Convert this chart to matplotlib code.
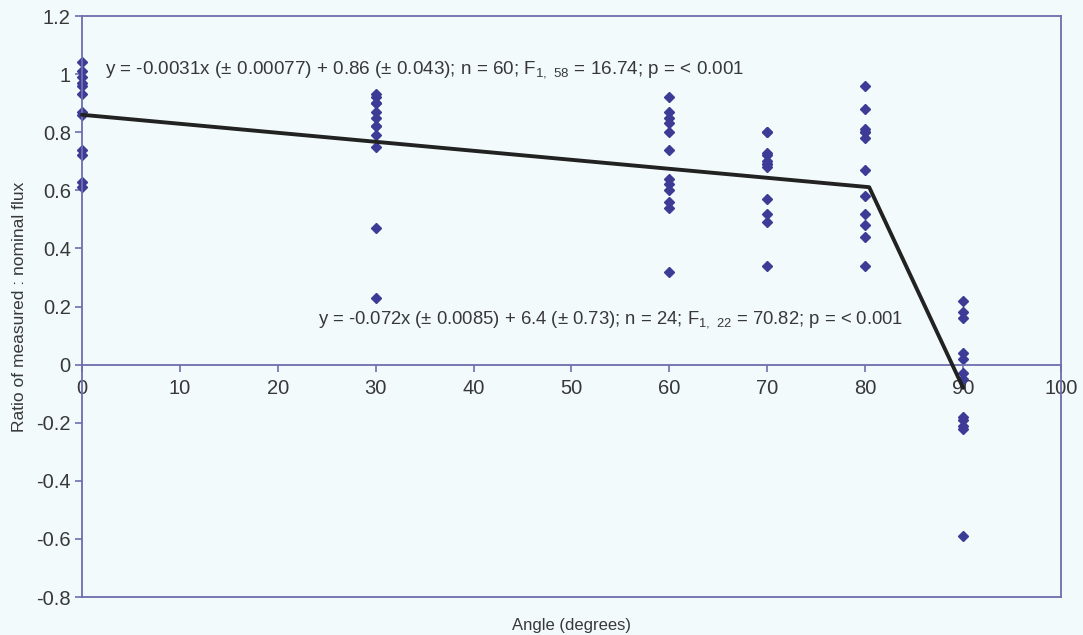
import matplotlib.pyplot as plt
from matplotlib.lines import Line2D

plt.rcParams['font.family'] = ['Liberation Sans', 'DejaVu Sans']
plt.rcParams['mathtext.default'] = 'regular'

# measured : nominal flux ratios at each angle (12 replicates each)
angles = [0, 30, 60, 70, 80, 90]
ratio_0 = [1.04, 1.01, 0.99, 0.97, 0.96, 0.93, 0.87, 0.86, 0.74, 0.72, 0.63, 0.61]
ratio_30 = [0.93, 0.92, 0.90, 0.90, 0.87, 0.85, 0.82, 0.82, 0.79, 0.75, 0.47, 0.23]
ratio_60 = [0.92, 0.87, 0.85, 0.83, 0.80, 0.74, 0.64, 0.62, 0.60, 0.56, 0.54, 0.32]
ratio_70 = [0.80, 0.80, 0.73, 0.72, 0.70, 0.69, 0.68, 0.57, 0.52, 0.49, 0.34, 0.69]
ratio_80 = [0.96, 0.88, 0.81, 0.80, 0.80, 0.78, 0.67, 0.58, 0.52, 0.48, 0.44, 0.34]
ratio_90 = [0.22, 0.18, 0.16, 0.04, 0.02, -0.03, -0.05, -0.18, -0.19, -0.21, -0.22, -0.59]
ratios = [ratio_0, ratio_30, ratio_60, ratio_70, ratio_80, ratio_90]

# regression fits: 0-80 degrees and 80-90 degrees
slope1, icpt1 = -0.0031, 0.86
slope2, icpt2 = -0.072, 6.4

yticks = [-0.8, -0.6, -0.4, -0.2, 0, 0.2, 0.4, 0.6, 0.8, 1, 1.2]
ytick_labels = ['-0.8', '-0.6', '-0.4', '-0.2', '0', '0.2', '0.4', '0.6', '0.8', '1', '1.2']
xticks = [0, 10, 20, 30, 40, 50, 60, 70, 80, 90, 100]

bg = '#f3fafc'
frame = '#6e6eae'
ink = '#383838'
point_col = '#3c3c96'

fig = plt.figure(figsize=(10.83, 6.35), dpi=100, facecolor=bg)
ax = fig.add_axes([0.0757, 0.0598, 0.904, 0.915], facecolor=bg)

# scatter of all replicates
xs, ys = [], []
for a, vals in zip(angles, ratios):
    xs += [a] * len(vals)
    ys += vals
ax.plot(xs, ys, linestyle='none', marker='D', ms=5.5, color=point_col,
        zorder=2, clip_on=False)

# broken regression line, joined where the two fits cross
x_knee = (icpt2 - icpt1) / (slope1 - slope2)
line_x = [0, x_knee, 90]
line_y = [icpt1, slope1 * x_knee + icpt1, slope2 * 90 + icpt2]
ax.plot(line_x, line_y, color='#222222', lw=2.8, zorder=3,
        solid_capstyle='round', clip_on=False)

ax.set_xlim(0, 100)
ax.set_ylim(-0.8, 1.2)
ax.set_xticks(xticks)
ax.set_xticklabels([str(t) for t in xticks])
ax.set_yticks(yticks)
ax.set_yticklabels(ytick_labels)

# x axis crosses at y = 0, plot area keeps a full border
ax.spines['bottom'].set_position(('data', 0))
for s in ax.spines.values():
    s.set_color(frame)
    s.set_linewidth(1.3)
ax.add_line(Line2D([0, 1], [0, 0], transform=ax.transAxes, color=frame,
                   lw=1.3, clip_on=False))

ax.tick_params(axis='both', direction='out', length=5, width=1.2, color=frame,
               labelcolor=ink, labelsize=14.5)
ax.tick_params(axis='x', pad=5)
ax.tick_params(axis='y', pad=3)
ax.tick_params(top=False, right=False)

ax.set_xlabel('Angle (degrees)', fontsize=12, color=ink)
ax.xaxis.set_label_coords(0.5, -0.036)
ax.set_ylabel('Ratio of measured : nominal flux', fontsize=12.5, color=ink)
ax.yaxis.set_label_coords(-0.056, 0.5)

ax.text(2.35, 1.016,
        'y = -0.0031x (± 0.00077) + 0.86 (± 0.043); n = 60; F$_{1,\\ 58}$ = 16.74; p = < 0.001',
        fontsize=13.6, color=ink, va='center', ha='left')
ax.text(24.1, 0.155,
        'y = -0.072x (± 0.0085) + 6.4 (± 0.73); n = 24; F$_{1,\\ 22}$ = 70.82; p = < 0.001',
        fontsize=13.3, color=ink, va='center', ha='left')

fig.savefig('out.png', dpi=100, facecolor=bg)
